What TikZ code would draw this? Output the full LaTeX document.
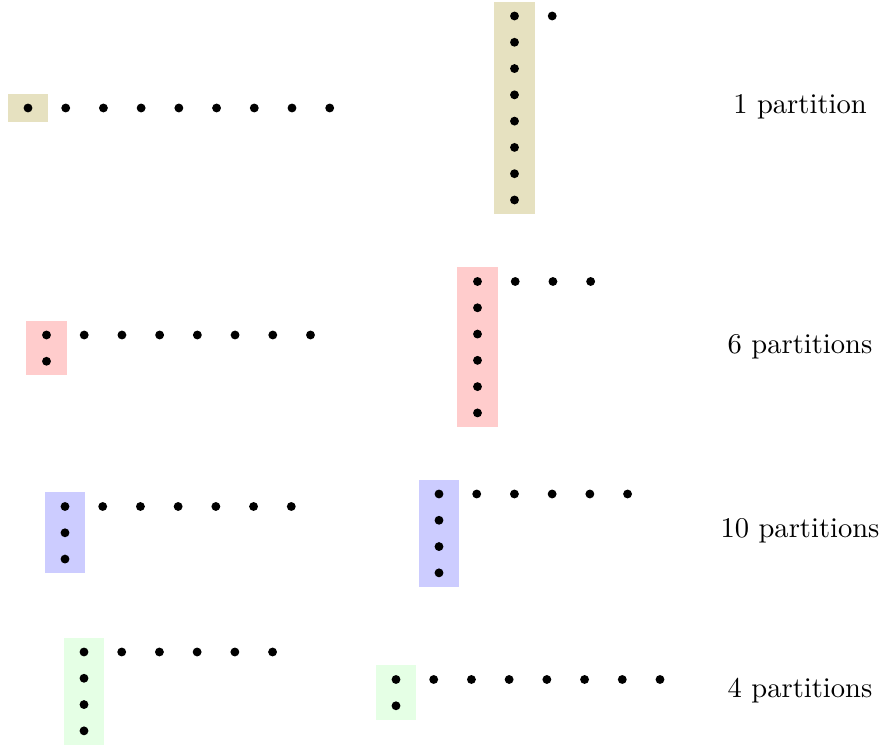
\documentclass[tikz,border=0pt]{standalone}
\usetikzlibrary{positioning,fit,backgrounds}
\definecolor{tanshade}{RGB}{230,225,192}
\begin{document}
\begin{tikzpicture}[x=0.35pt, y=-0.35pt,
  dot/.style = {circle, fill, inner sep=0pt, minimum size=3.1pt},
  across/.style = {node distance=13.2pt},
  down/.style = {node distance=9.2pt},
  hook/.style = {inner xsep=5.3pt, inner ysep=3.2pt}]
  \useasboundingbox (0,0) rectangle (884,750);

  % 1 partition
  \node[dot] (oneL1) at (28, 108) {};
  \node[dot, across, right of = oneL1] (oneLa1) {};
  \foreach \i [count=\j from 2] in {1,...,7}
    \node[dot, across, right of = oneLa\i] (oneLa\j) {};
  \node[dot] (oneR1) at (514.5, 16) {};
  \foreach \i [count=\j from 2] in {1,...,7}
    \node[dot, down, below of = oneR\i] (oneR\j) {};
  \node[dot, across, right of = oneR1] (oneRa1) {};
  \node (one) at (800, 107) {1 partition};

  % 6 partitions
  \node[dot] (sixL1) at (46.5, 335) {};
  \node[dot, down, below of = sixL1] (sixL2) {};
  \node[dot, across, right of = sixL1] (sixLa1) {};
  \foreach \i [count=\j from 2] in {1,...,6}
    \node[dot, across, right of = sixLa\i] (sixLa\j) {};
  \node[dot] (sixR1) at (477.5, 281.5) {};
  \foreach \i [count=\j from 2] in {1,...,5}
    \node[dot, down, below of = sixR\i] (sixR\j) {};
  \node[dot, across, right of = sixR1] (sixRa1) {};
  \foreach \i [count=\j from 2] in {1,...,2}
    \node[dot, across, right of = sixRa\i] (sixRa\j) {};
  \node (six) at (800, 347) {6 partitions};

  % 10 partitions
  \node[dot] (tenL1) at (65, 506.5) {};
  \foreach \i [count=\j from 2] in {1,...,2}
    \node[dot, down, below of = tenL\i] (tenL\j) {};
  \node[dot, across, right of = tenL1] (tenLa1) {};
  \foreach \i [count=\j from 2] in {1,...,5}
    \node[dot, across, right of = tenLa\i] (tenLa\j) {};
  \node[dot] (tenR1) at (439, 494) {};
  \foreach \i [count=\j from 2] in {1,...,3}
    \node[dot, down, below of = tenR\i] (tenR\j) {};
  \node[dot, across, right of = tenR1] (tenRa1) {};
  \foreach \i [count=\j from 2] in {1,...,4}
    \node[dot, across, right of = tenRa\i] (tenRa\j) {};
  \node (ten) at (800, 531) {10 partitions};

  % 4 partitions
  \node[dot] (fourL1) at (84, 652) {};
  \foreach \i [count=\j from 2] in {1,...,3}
    \node[dot, down, below of = fourL\i] (fourL\j) {};
  \node[dot, across, right of = fourL1] (fourLa1) {};
  \foreach \i [count=\j from 2] in {1,...,4}
    \node[dot, across, right of = fourLa\i] (fourLa\j) {};
  \node[dot] (fourR1) at (396, 679.5) {};
  \node[dot, down, below of = fourR1] (fourR2) {};
  \node[dot, across, right of = fourR1] (fourRa1) {};
  \foreach \i [count=\j from 2] in {1,...,6}
    \node[dot, across, right of = fourRa\i] (fourRa\j) {};
  \node (four) at (800, 691) {4 partitions};

  % shaded columns
  \begin{scope}[on background layer]
    \node[hook, fill=tanshade, fit=(oneL1)] (oneLbox) {};
    \node[hook, fill=tanshade, fit=(oneR1)(oneR8)] (oneRbox) {};
    \node[hook, fill=red!20, fit=(sixL1)(sixL2)] (sixLbox) {};
    \node[hook, fill=red!20, fit=(sixR1)(sixR6)] (sixRbox) {};
    \node[hook, fill=blue!20, fit=(tenL1)(tenL3)] (tenLbox) {};
    \node[hook, fill=blue!20, fit=(tenR1)(tenR4)] (tenRbox) {};
    \node[hook, fill=green!10, fit=(fourL1)(fourL4)] (fourLbox) {};
    \node[hook, fill=green!10, fit=(fourR1)(fourR2)] (fourRbox) {};
  \end{scope}
\end{tikzpicture}
\end{document}
